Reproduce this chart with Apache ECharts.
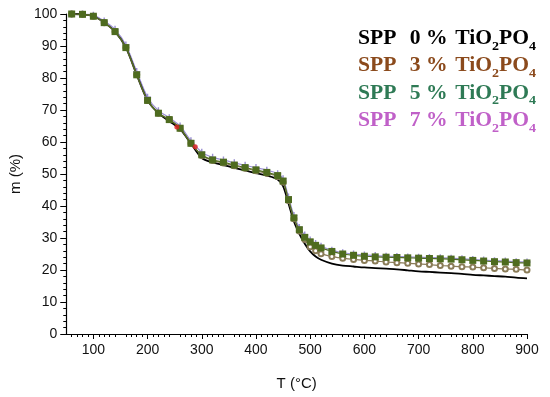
<!DOCTYPE html>
<html><head><meta charset="utf-8">
<script src="https://cdn.jsdelivr.net/npm/echarts@6/dist/echarts.min.js"></script>
<style>html,body{margin:0;padding:0;background:#fff}#c{width:550px;height:397px}</style>
</head><body><div id="c"></div>
<script>
var temps = [60,80,100,120,140,160,180,200,220,240,260,280,300,320,340,360,380,400,420,440,
  450,460,470,480,490,500,510,520,
  540,560,580,600,620,640,660,680,700,720,740,760,780,800,820,840,860,880,900];
var spp0 = [100,99.9,99.3,97.3,94.5,89.5,81,73,69,66.5,64,59.5,55,53.6,52.8,51.9,51.1,50.3,49.5,48.3,
  46.2,40.8,35.2,31.3,28.2,25.8,24.2,23.2,
  22,21.4,21.1,20.8,20.6,20.4,20.2,19.9,19.6,19.4,19.2,19,18.8,18.5,18.3,18.1,17.9,17.6,17.4];
var spp3 = [100,99.9,99.3,97.3,94.5,89.5,81,73,69,67,64.3,59.6,55.8,54.2,53.4,52.6,51.8,51,50.2,49.2,
  47.5,41.7,36,32.2,29.5,27.3,26,25.1,
  24.2,23.7,23.3,23,22.8,22.5,22.3,22.1,21.9,21.7,21.4,21.2,21,20.9,20.7,20.5,20.3,20.2,20];
var spp5 = [100,99.9,99.3,97.3,94.5,89.5,81,73,69,67,64.3,59.6,56,54.4,53.7,52.8,52,51.3,50.5,49.5,
  47.8,42,36.3,32.6,30.2,28.8,27.7,26.9,
  25.8,25,24.6,24.3,24.1,24,23.9,23.8,23.7,23.6,23.5,23.4,23.2,23,22.8,22.6,22.5,22.3,22.2];
var spp7 = [100,100,99.6,97.8,95.2,90.3,82,74,69.8,67.6,65,60.4,56.8,55.2,54.4,53.5,52.7,52,51.2,50.1,
  48.5,42.8,37,33.3,30.9,29.4,28.3,27.4,
  26.2,25.4,25,24.7,24.5,24.3,24.2,24.1,24,23.9,23.8,23.7,23.5,23.3,23.1,22.9,22.8,22.6,22.5];
var redPts = [[254,64.7],[288,58.5]];
var xTicks = [100,200,300,400,500,600,700,800,900];
var legendRows = [
  {pct:'0', color:'#000000'},
  {pct:'3', color:'#8B4A1C'},
  {pct:'5', color:'#2E7A55'},
  {pct:'7', color:'#C060C8'}
];
function pairs(v){ return temps.map(function(t,i){return [t,v[i]];}); }
var chart = echarts.init(document.getElementById('c'), null, {renderer:'canvas'});
var axisFont = {fontFamily:'Liberation Sans, Arial', fontSize:14, color:'#111'};
var serif = 'Liberation Serif, Times New Roman';
var graphics = legendRows.map(function(r,i){
  return {
    type:'text', x:358, y:25 + i*27.3, z:100, scaleX:1.08,
    style:{
      text:'{p|SPP}{n|' + r.pct + ' %}{a|TiO}{s|2}{a|PO}{s|4}',
      rich:{
        p:{fontFamily:serif, fontWeight:'bold', fontSize:20, fill:r.color, lineHeight:24, verticalAlign:'bottom', width:48},
        n:{fontFamily:serif, fontWeight:'bold', fontSize:20, fill:r.color, lineHeight:24, verticalAlign:'bottom', width:42},
        a:{fontFamily:serif, fontWeight:'bold', fontSize:20, fill:r.color, lineHeight:24, verticalAlign:'bottom'},
        s:{fontFamily:serif, fontWeight:'bold', fontSize:13, fill:r.color, lineHeight:14, verticalAlign:'bottom', padding:[0,0,-4,0]}
      }
    }
  };
});
var plus = 'path://M4,0H6V4H10V6H6V10H4V6H0V4H4Z';
chart.setOption({
  animation:false,
  grid:{left:65, right:23, top:14, bottom:63},
  xAxis:{
    type:'value', min:50, max:900, interval:50,
    name:'T (°C)', nameLocation:'middle', nameGap:42,
    nameTextStyle:{fontFamily:'Liberation Sans, Arial', fontSize:15, color:'#111'},
    axisLine:{lineStyle:{color:'#000', width:1.2}},
    axisTick:{customValues:xTicks, length:5, lineStyle:{color:'#000'}},
    minorTick:{show:true, splitNumber:5, length:3, lineStyle:{color:'#000'}},
    axisLabel:Object.assign({customValues:xTicks, margin:9}, axisFont),
    splitLine:{show:false}
  },
  yAxis:{
    type:'value', min:0, max:100, interval:10,
    name:'m (%)', nameLocation:'middle', nameGap:42,
    nameTextStyle:{fontFamily:'Liberation Sans, Arial', fontSize:15, color:'#111'},
    axisLine:{show:true, lineStyle:{color:'#000', width:1.2}},
    axisTick:{show:true, length:6, lineStyle:{color:'#000'}},
    minorTick:{show:true, splitNumber:5, length:3, lineStyle:{color:'#000'}},
    axisLabel:Object.assign({margin:9}, axisFont),
    splitLine:{show:false}
  },
  graphic:graphics,
  series:[
    {name:'SPP 7 %', type:'line', data:pairs(spp7), symbol:plus, symbolSize:7, smooth:0.3,
      lineStyle:{color:'#9A8FD2', width:1.2}, itemStyle:{color:'#9A8FD2'}},
    {name:'SPP 0 %', type:'line', data:pairs(spp0), showSymbol:false, smooth:0.3,
      lineStyle:{color:'#000', width:1.8}},
    {name:'SPP 3 %', type:'line', data:pairs(spp3), symbol:'emptyCircle', symbolSize:5, smooth:0.3,
      lineStyle:{color:'#8A7C58', width:1.2}, itemStyle:{color:'#8A7C58', borderWidth:1}},
    {name:'SPP 5 %', type:'line', data:pairs(spp5), symbol:'rect', symbolSize:7, smooth:0.3,
      lineStyle:{color:'#4E6B1F', width:1.2}, itemStyle:{color:'#4E6B1F'}},
    {name:'red', type:'scatter', data:redPts, symbol:'circle', symbolSize:5, z:10, itemStyle:{color:'#E02020'}}
  ]
});
</script></body></html>
